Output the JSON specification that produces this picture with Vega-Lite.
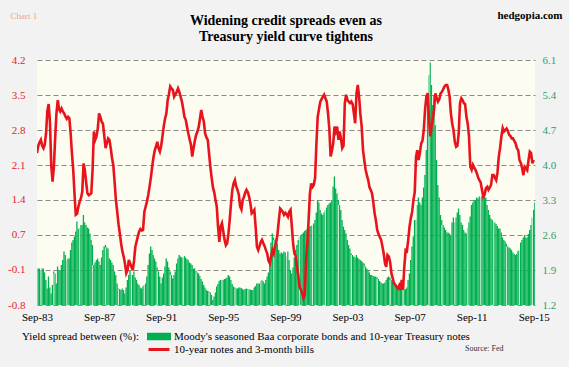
{
"$schema": "https://vega.github.io/schema/vega-lite/v6.json",
"width": 498, "height": 245,
"autosize": {"type": "none"},
"padding": {"left": 37, "top": 60, "right": 34, "bottom": 62},
"background": "#f2f2f2",
"config": {"view": {"fill": "#fcfcf1", "stroke": null}, "font": "Liberation Serif"},
"title": {"text": ["Widening credit spreads even as", "Treasury yield curve tightens"], "font": "Liberation Serif", "fontSize": 14, "fontWeight": "bold", "anchor": "middle", "offset": 0, "dy": 35, "lineHeight": 16, "color": "#000000"},
"data": {"values": [
{"d":"1983-09-01","g":1.93,"r":2.30},{"d":"1983-10-01","g":1.93,"r":2.45},{"d":"1983-11-01","g":1.90,"r":2.52},{"d":"1983-12-01","g":1.93,"r":2.57},
{"d":"1984-01-01","g":1.93,"r":2.45},{"d":"1984-02-01","g":1.85,"r":2.40},{"d":"1984-03-01","g":1.70,"r":2.47},{"d":"1984-04-01","g":1.53,"r":2.70},{"d":"1984-05-01","g":1.77,"r":3.15},{"d":"1984-06-01","g":1.55,"r":3.30},{"d":"1984-07-01","g":1.43,"r":2.95},{"d":"1984-08-01","g":1.60,"r":2.05},{"d":"1984-09-01","g":1.87,"r":1.72},{"d":"1984-10-01","g":1.83,"r":2.00},{"d":"1984-11-01","g":1.63,"r":2.60},{"d":"1984-12-01","g":1.97,"r":3.10},
{"d":"1985-01-01","g":1.90,"r":3.38},{"d":"1985-02-01","g":1.90,"r":3.20},{"d":"1985-03-01","g":2.00,"r":3.15},{"d":"1985-04-01","g":2.10,"r":3.21},{"d":"1985-05-01","g":2.27,"r":3.15},{"d":"1985-06-01","g":2.20,"r":3.11},{"d":"1985-07-01","g":2.10,"r":3.05},{"d":"1985-08-01","g":2.13,"r":3.00},{"d":"1985-09-01","g":2.13,"r":3.04},{"d":"1985-10-01","g":2.30,"r":3.01},{"d":"1985-11-01","g":2.45,"r":2.70},{"d":"1985-12-01","g":2.50,"r":2.30},
{"d":"1986-01-01","g":2.57,"r":1.95},{"d":"1986-02-01","g":2.67,"r":1.45},{"d":"1986-03-01","g":2.87,"r":1.04},{"d":"1986-04-01","g":2.72,"r":1.06},{"d":"1986-05-01","g":2.75,"r":1.20},{"d":"1986-06-01","g":2.80,"r":1.31},{"d":"1986-07-01","g":2.80,"r":1.38},{"d":"1986-08-01","g":3.00,"r":1.51},{"d":"1986-09-01","g":2.85,"r":2.09},{"d":"1986-10-01","g":2.80,"r":1.95},{"d":"1986-11-01","g":2.75,"r":1.70},{"d":"1986-12-01","g":2.73,"r":1.48},
{"d":"1987-01-01","g":2.63,"r":1.44},{"d":"1987-02-01","g":2.50,"r":1.46},{"d":"1987-03-01","g":2.40,"r":1.48},{"d":"1987-04-01","g":2.00,"r":1.96},{"d":"1987-05-01","g":2.05,"r":2.74},{"d":"1987-06-01","g":2.10,"r":2.57},{"d":"1987-07-01","g":2.13,"r":2.64},{"d":"1987-08-01","g":2.07,"r":2.80},{"d":"1987-09-01","g":2.00,"r":3.11},{"d":"1987-10-01","g":2.15,"r":3.04},{"d":"1987-11-01","g":2.30,"r":2.94},{"d":"1987-12-01","g":2.37,"r":2.90},
{"d":"1988-01-01","g":2.40,"r":2.65},{"d":"1988-02-01","g":2.35,"r":2.40},{"d":"1988-03-01","g":2.33,"r":2.50},{"d":"1988-04-01","g":2.13,"r":2.60},{"d":"1988-05-01","g":2.10,"r":2.57},{"d":"1988-06-01","g":2.05,"r":2.40},{"d":"1988-07-01","g":2.00,"r":2.20},{"d":"1988-08-01","g":1.87,"r":2.05},{"d":"1988-09-01","g":1.80,"r":1.70},{"d":"1988-10-01","g":1.63,"r":1.34},{"d":"1988-11-01","g":1.53,"r":1.10},{"d":"1988-12-01","g":1.52,"r":0.85},
{"d":"1989-01-01","g":1.50,"r":0.66},{"d":"1989-02-01","g":1.53,"r":0.45},{"d":"1989-03-01","g":1.50,"r":0.30},{"d":"1989-04-01","g":1.43,"r":0.19},{"d":"1989-05-01","g":1.55,"r":0.05},{"d":"1989-06-01","g":1.70,"r":-0.15},{"d":"1989-07-01","g":1.80,"r":-0.09},{"d":"1989-08-01","g":1.90,"r":0.12},{"d":"1989-09-01","g":1.80,"r":0.05},{"d":"1989-10-01","g":1.80,"r":-0.02},{"d":"1989-11-01","g":1.87,"r":-0.09},{"d":"1989-12-01","g":1.75,"r":0.10},
{"d":"1990-01-01","g":1.70,"r":0.39},{"d":"1990-02-01","g":1.63,"r":0.50},{"d":"1990-03-01","g":1.60,"r":0.60},{"d":"1990-04-01","g":1.55,"r":0.70},{"d":"1990-05-01","g":1.53,"r":0.75},{"d":"1990-06-01","g":1.57,"r":0.72},{"d":"1990-07-01","g":1.60,"r":0.73},{"d":"1990-08-01","g":1.63,"r":1.10},{"d":"1990-09-01","g":1.77,"r":1.21},{"d":"1990-10-01","g":2.00,"r":1.31},{"d":"1990-11-01","g":2.23,"r":1.45},{"d":"1990-12-01","g":2.37,"r":1.61},
{"d":"1991-01-01","g":2.30,"r":1.80},{"d":"1991-02-01","g":2.20,"r":2.02},{"d":"1991-03-01","g":2.13,"r":2.20},{"d":"1991-04-01","g":2.07,"r":2.35},{"d":"1991-05-01","g":1.95,"r":2.43},{"d":"1991-06-01","g":1.87,"r":2.53},{"d":"1991-07-01","g":1.77,"r":2.40},{"d":"1991-08-01","g":1.63,"r":2.33},{"d":"1991-09-01","g":1.75,"r":2.45},{"d":"1991-10-01","g":1.83,"r":2.64},{"d":"1991-11-01","g":1.97,"r":2.85},{"d":"1991-12-01","g":2.13,"r":3.00},
{"d":"1992-01-01","g":2.07,"r":3.11},{"d":"1992-02-01","g":1.95,"r":3.38},{"d":"1992-03-01","g":1.87,"r":3.50},{"d":"1992-04-01","g":1.80,"r":3.66},{"d":"1992-05-01","g":1.73,"r":3.62},{"d":"1992-06-01","g":1.80,"r":3.59},{"d":"1992-07-01","g":1.87,"r":3.45},{"d":"1992-08-01","g":2.03,"r":3.50},{"d":"1992-09-01","g":2.13,"r":3.55},{"d":"1992-10-01","g":2.20,"r":3.62},{"d":"1992-11-01","g":2.17,"r":3.55},{"d":"1992-12-01","g":2.15,"r":3.45},
{"d":"1993-01-01","g":2.15,"r":3.35},{"d":"1993-02-01","g":2.18,"r":3.20},{"d":"1993-03-01","g":2.15,"r":3.04},{"d":"1993-04-01","g":2.12,"r":2.98},{"d":"1993-05-01","g":2.10,"r":2.84},{"d":"1993-06-01","g":2.05,"r":2.70},{"d":"1993-07-01","g":2.03,"r":2.58},{"d":"1993-08-01","g":2.00,"r":2.47},{"d":"1993-09-01","g":1.93,"r":2.23},{"d":"1993-10-01","g":1.93,"r":2.40},{"d":"1993-11-01","g":1.88,"r":2.55},{"d":"1993-12-01","g":1.85,"r":2.67},
{"d":"1994-01-01","g":1.83,"r":2.74},{"d":"1994-02-01","g":1.78,"r":2.84},{"d":"1994-03-01","g":1.72,"r":3.00},{"d":"1994-04-01","g":1.67,"r":3.18},{"d":"1994-05-01","g":1.60,"r":3.04},{"d":"1994-06-01","g":1.55,"r":2.94},{"d":"1994-07-01","g":1.50,"r":2.70},{"d":"1994-08-01","g":1.48,"r":2.62},{"d":"1994-09-01","g":1.47,"r":2.57},{"d":"1994-10-01","g":1.45,"r":2.30},{"d":"1994-11-01","g":1.40,"r":2.02},{"d":"1994-12-01","g":1.30,"r":1.80},
{"d":"1995-01-01","g":1.37,"r":1.60},{"d":"1995-02-01","g":1.45,"r":1.50},{"d":"1995-03-01","g":1.57,"r":1.35},{"d":"1995-04-01","g":1.62,"r":1.21},{"d":"1995-05-01","g":1.68,"r":0.80},{"d":"1995-06-01","g":1.70,"r":0.49},{"d":"1995-07-01","g":1.70,"r":0.80},{"d":"1995-08-01","g":1.70,"r":0.87},{"d":"1995-09-01","g":1.72,"r":0.70},{"d":"1995-10-01","g":1.73,"r":0.53},{"d":"1995-11-01","g":1.75,"r":0.42},{"d":"1995-12-01","g":1.80,"r":0.46},
{"d":"1996-01-01","g":1.77,"r":0.66},{"d":"1996-02-01","g":1.70,"r":0.95},{"d":"1996-03-01","g":1.62,"r":1.27},{"d":"1996-04-01","g":1.57,"r":1.55},{"d":"1996-05-01","g":1.55,"r":1.68},{"d":"1996-06-01","g":1.53,"r":1.75},{"d":"1996-07-01","g":1.53,"r":1.62},{"d":"1996-08-01","g":1.55,"r":1.55},{"d":"1996-09-01","g":1.55,"r":1.45},{"d":"1996-10-01","g":1.54,"r":1.21},{"d":"1996-11-01","g":1.52,"r":1.15},{"d":"1996-12-01","g":1.50,"r":1.34},
{"d":"1997-01-01","g":1.52,"r":1.41},{"d":"1997-02-01","g":1.53,"r":1.50},{"d":"1997-03-01","g":1.52,"r":1.55},{"d":"1997-04-01","g":1.51,"r":1.50},{"d":"1997-05-01","g":1.51,"r":1.41},{"d":"1997-06-01","g":1.50,"r":1.27},{"d":"1997-07-01","g":1.50,"r":1.07},{"d":"1997-08-01","g":1.55,"r":1.10},{"d":"1997-09-01","g":1.58,"r":1.14},{"d":"1997-10-01","g":1.63,"r":0.80},{"d":"1997-11-01","g":1.63,"r":0.39},{"d":"1997-12-01","g":1.63,"r":0.32},
{"d":"1998-01-01","g":1.68,"r":0.40},{"d":"1998-02-01","g":1.70,"r":0.49},{"d":"1998-03-01","g":1.67,"r":0.53},{"d":"1998-04-01","g":1.63,"r":0.46},{"d":"1998-05-01","g":1.70,"r":0.40},{"d":"1998-06-01","g":1.77,"r":0.32},{"d":"1998-07-01","g":1.85,"r":0.25},{"d":"1998-08-01","g":2.07,"r":0.10},{"d":"1998-09-01","g":2.45,"r":0.05},{"d":"1998-10-01","g":2.63,"r":0.19},{"d":"1998-11-01","g":2.55,"r":0.32},{"d":"1998-12-01","g":2.50,"r":0.25},
{"d":"1999-01-01","g":2.53,"r":0.40},{"d":"1999-02-01","g":2.43,"r":0.49},{"d":"1999-03-01","g":2.30,"r":0.66},{"d":"1999-04-01","g":2.23,"r":0.93},{"d":"1999-05-01","g":2.25,"r":1.17},{"d":"1999-06-01","g":2.23,"r":1.14},{"d":"1999-07-01","g":2.27,"r":1.10},{"d":"1999-08-01","g":2.25,"r":1.04},{"d":"1999-09-01","g":2.17,"r":1.08},{"d":"1999-10-01","g":2.27,"r":1.05},{"d":"1999-11-01","g":2.10,"r":1.00},{"d":"1999-12-01","g":1.90,"r":1.10},
{"d":"2000-01-01","g":1.83,"r":1.14},{"d":"2000-02-01","g":1.95,"r":0.80},{"d":"2000-03-01","g":2.15,"r":0.46},{"d":"2000-04-01","g":2.30,"r":0.25},{"d":"2000-05-01","g":2.40,"r":0.20},{"d":"2000-06-01","g":2.50,"r":-0.02},{"d":"2000-07-01","g":2.57,"r":-0.20},{"d":"2000-08-01","g":2.60,"r":-0.43},{"d":"2000-09-01","g":2.62,"r":-0.49},{"d":"2000-10-01","g":2.65,"r":-0.56},{"d":"2000-11-01","g":2.68,"r":-0.66},{"d":"2000-12-01","g":2.70,"r":-0.60},
{"d":"2001-01-01","g":2.72,"r":0.12},{"d":"2001-02-01","g":2.75,"r":0.50},{"d":"2001-03-01","g":2.77,"r":0.93},{"d":"2001-04-01","g":2.78,"r":1.48},{"d":"2001-05-01","g":2.80,"r":1.68},{"d":"2001-06-01","g":2.83,"r":1.61},{"d":"2001-07-01","g":2.90,"r":1.65},{"d":"2001-08-01","g":3.05,"r":1.80},{"d":"2001-09-01","g":3.30,"r":2.50},{"d":"2001-10-01","g":3.25,"r":3.04},{"d":"2001-11-01","g":3.10,"r":3.20},{"d":"2001-12-01","g":3.03,"r":3.35},
{"d":"2002-01-01","g":3.00,"r":3.40},{"d":"2002-02-01","g":3.05,"r":3.45},{"d":"2002-03-01","g":3.10,"r":3.49},{"d":"2002-04-01","g":3.15,"r":3.42},{"d":"2002-05-01","g":3.20,"r":3.35},{"d":"2002-06-01","g":3.23,"r":3.11},{"d":"2002-07-01","g":3.25,"r":2.80},{"d":"2002-08-01","g":3.30,"r":2.23},{"d":"2002-09-01","g":3.57,"r":2.35},{"d":"2002-10-01","g":3.77,"r":2.50},{"d":"2002-11-01","g":3.53,"r":2.84},{"d":"2002-12-01","g":3.43,"r":2.74},
{"d":"2003-01-01","g":3.30,"r":2.84},{"d":"2003-02-01","g":3.20,"r":2.57},{"d":"2003-03-01","g":3.10,"r":2.74},{"d":"2003-04-01","g":2.90,"r":2.60},{"d":"2003-05-01","g":2.77,"r":2.40},{"d":"2003-06-01","g":2.70,"r":2.45},{"d":"2003-07-01","g":2.63,"r":3.32},{"d":"2003-08-01","g":2.50,"r":3.49},{"d":"2003-09-01","g":2.40,"r":3.38},{"d":"2003-10-01","g":2.33,"r":3.35},{"d":"2003-11-01","g":2.23,"r":3.32},{"d":"2003-12-01","g":2.20,"r":3.35},
{"d":"2004-01-01","g":2.17,"r":3.30},{"d":"2004-02-01","g":2.15,"r":3.10},{"d":"2004-03-01","g":2.20,"r":2.91},{"d":"2004-04-01","g":2.15,"r":3.52},{"d":"2004-05-01","g":2.12,"r":3.69},{"d":"2004-06-01","g":2.10,"r":3.45},{"d":"2004-07-01","g":2.08,"r":3.10},{"d":"2004-08-01","g":2.05,"r":2.84},{"d":"2004-09-01","g":2.03,"r":2.36},{"d":"2004-10-01","g":1.97,"r":2.16},{"d":"2004-11-01","g":1.93,"r":1.96},{"d":"2004-12-01","g":1.90,"r":1.85},
{"d":"2005-01-01","g":1.85,"r":1.75},{"d":"2005-02-01","g":1.80,"r":1.60},{"d":"2005-03-01","g":1.80,"r":1.55},{"d":"2005-04-01","g":1.78,"r":1.48},{"d":"2005-05-01","g":1.77,"r":1.30},{"d":"2005-06-01","g":1.77,"r":1.07},{"d":"2005-07-01","g":1.75,"r":0.93},{"d":"2005-08-01","g":1.72,"r":0.73},{"d":"2005-09-01","g":1.68,"r":0.65},{"d":"2005-10-01","g":1.65,"r":0.59},{"d":"2005-11-01","g":1.63,"r":0.53},{"d":"2005-12-01","g":1.63,"r":0.40},
{"d":"2006-01-01","g":1.65,"r":0.25},{"d":"2006-02-01","g":1.70,"r":0.05},{"d":"2006-03-01","g":1.75,"r":-0.02},{"d":"2006-04-01","g":1.77,"r":0.22},{"d":"2006-05-01","g":1.75,"r":0.19},{"d":"2006-06-01","g":1.70,"r":0.08},{"d":"2006-07-01","g":1.67,"r":-0.15},{"d":"2006-08-01","g":1.63,"r":-0.25},{"d":"2006-09-01","g":1.60,"r":-0.36},{"d":"2006-10-01","g":1.57,"r":-0.39},{"d":"2006-11-01","g":1.55,"r":-0.43},{"d":"2006-12-01","g":1.53,"r":-0.46},
{"d":"2007-01-01","g":1.52,"r":-0.40},{"d":"2007-02-01","g":1.52,"r":-0.49},{"d":"2007-03-01","g":1.50,"r":-0.29},{"d":"2007-04-01","g":1.50,"r":-0.49},{"d":"2007-05-01","g":1.52,"r":-0.02},{"d":"2007-06-01","g":1.55,"r":0.32},{"d":"2007-07-01","g":1.70,"r":0.30},{"d":"2007-08-01","g":1.83,"r":0.53},{"d":"2007-09-01","g":2.10,"r":0.80},{"d":"2007-10-01","g":2.37,"r":0.97},{"d":"2007-11-01","g":2.57,"r":1.10},{"d":"2007-12-01","g":2.90,"r":1.34},
{"d":"2008-01-01","g":2.90,"r":1.50},{"d":"2008-02-01","g":3.20,"r":2.23},{"d":"2008-03-01","g":3.35,"r":2.36},{"d":"2008-04-01","g":3.25,"r":2.16},{"d":"2008-05-01","g":3.20,"r":2.30},{"d":"2008-06-01","g":3.35,"r":2.50},{"d":"2008-07-01","g":3.55,"r":2.55},{"d":"2008-08-01","g":3.80,"r":2.77},{"d":"2008-09-01","g":4.30,"r":3.20},{"d":"2008-10-01","g":5.30,"r":3.45},{"d":"2008-11-01","g":5.80,"r":3.52},{"d":"2008-12-01","g":6.05,"r":3.00},
{"d":"2009-01-01","g":5.60,"r":2.64},{"d":"2009-02-01","g":5.20,"r":2.84},{"d":"2009-03-01","g":5.40,"r":2.98},{"d":"2009-04-01","g":4.80,"r":3.20},{"d":"2009-05-01","g":4.10,"r":3.52},{"d":"2009-06-01","g":3.60,"r":3.42},{"d":"2009-07-01","g":3.35,"r":3.35},{"d":"2009-08-01","g":3.00,"r":3.40},{"d":"2009-09-01","g":2.90,"r":3.52},{"d":"2009-10-01","g":2.80,"r":3.55},{"d":"2009-11-01","g":2.75,"r":3.60},{"d":"2009-12-01","g":2.70,"r":3.66},
{"d":"2010-01-01","g":2.65,"r":3.69},{"d":"2010-02-01","g":2.65,"r":3.69},{"d":"2010-03-01","g":2.63,"r":3.60},{"d":"2010-04-01","g":2.60,"r":3.45},{"d":"2010-05-01","g":2.85,"r":3.11},{"d":"2010-06-01","g":2.95,"r":2.90},{"d":"2010-07-01","g":2.85,"r":2.77},{"d":"2010-08-01","g":2.95,"r":2.53},{"d":"2010-09-01","g":3.05,"r":2.43},{"d":"2010-10-01","g":3.13,"r":2.45},{"d":"2010-11-01","g":3.00,"r":2.70},{"d":"2010-12-01","g":2.85,"r":3.32},
{"d":"2011-01-01","g":2.80,"r":3.42},{"d":"2011-02-01","g":2.70,"r":3.38},{"d":"2011-03-01","g":2.65,"r":3.32},{"d":"2011-04-01","g":2.63,"r":3.30},{"d":"2011-05-01","g":2.75,"r":3.04},{"d":"2011-06-01","g":2.85,"r":2.90},{"d":"2011-07-01","g":2.97,"r":2.64},{"d":"2011-08-01","g":3.20,"r":2.02},{"d":"2011-09-01","g":3.25,"r":1.96},{"d":"2011-10-01","g":3.30,"r":2.06},{"d":"2011-11-01","g":3.30,"r":2.00},{"d":"2011-12-01","g":3.35,"r":1.96},
{"d":"2012-01-01","g":3.33,"r":1.89},{"d":"2012-02-01","g":3.37,"r":1.80},{"d":"2012-03-01","g":3.35,"r":1.75},{"d":"2012-04-01","g":3.38,"r":1.70},{"d":"2012-05-01","g":3.40,"r":1.55},{"d":"2012-06-01","g":3.40,"r":1.41},{"d":"2012-07-01","g":3.35,"r":1.45},{"d":"2012-08-01","g":3.20,"r":1.58},{"d":"2012-09-01","g":3.10,"r":1.61},{"d":"2012-10-01","g":3.00,"r":1.55},{"d":"2012-11-01","g":2.93,"r":1.60},{"d":"2012-12-01","g":2.90,"r":1.65},
{"d":"2013-01-01","g":2.85,"r":1.85},{"d":"2013-02-01","g":2.85,"r":1.85},{"d":"2013-03-01","g":2.82,"r":1.80},{"d":"2013-04-01","g":2.78,"r":1.75},{"d":"2013-05-01","g":2.73,"r":1.90},{"d":"2013-06-01","g":2.73,"r":2.23},{"d":"2013-07-01","g":2.65,"r":2.40},{"d":"2013-08-01","g":2.55,"r":2.64},{"d":"2013-09-01","g":2.50,"r":2.81},{"d":"2013-10-01","g":2.47,"r":2.74},{"d":"2013-11-01","g":2.42,"r":2.77},{"d":"2013-12-01","g":2.37,"r":2.80},
{"d":"2014-01-01","g":2.35,"r":2.75},{"d":"2014-02-01","g":2.33,"r":2.67},{"d":"2014-03-01","g":2.30,"r":2.65},{"d":"2014-04-01","g":2.25,"r":2.60},{"d":"2014-05-01","g":2.22,"r":2.60},{"d":"2014-06-01","g":2.20,"r":2.55},{"d":"2014-07-01","g":2.22,"r":2.50},{"d":"2014-08-01","g":2.28,"r":2.40},{"d":"2014-09-01","g":2.30,"r":2.36},{"d":"2014-10-01","g":2.45,"r":2.16},{"d":"2014-11-01","g":2.50,"r":2.10},{"d":"2014-12-01","g":2.55,"r":2.00},
{"d":"2015-01-01","g":2.60,"r":1.85},{"d":"2015-02-01","g":2.55,"r":2.02},{"d":"2015-03-01","g":2.55,"r":1.99},{"d":"2015-04-01","g":2.62,"r":1.95},{"d":"2015-05-01","g":2.70,"r":2.15},{"d":"2015-06-01","g":2.80,"r":2.33},{"d":"2015-07-01","g":2.95,"r":2.30},{"d":"2015-08-01","g":3.10,"r":2.09},{"d":"2015-09-01","g":3.25,"r":2.16}
]},
"encoding": {
  "x": {"field": "d", "type": "temporal", "timeUnit": "utcyearmonth",
    "scale": {"type": "utc", "domain": [{"year": 1983, "month": "sep", "date": 1, "utc": true}, {"year": 2015, "month": "oct", "date": 1, "utc": true}]},
    "axis": {"values": [{"year": 1983, "month": "sep", "date": 1, "utc": true}, {"year": 1987, "month": "sep", "date": 1, "utc": true}, {"year": 1991, "month": "sep", "date": 1, "utc": true}, {"year": 1995, "month": "sep", "date": 1, "utc": true}, {"year": 1999, "month": "sep", "date": 1, "utc": true}, {"year": 2003, "month": "sep", "date": 1, "utc": true}, {"year": 2007, "month": "sep", "date": 1, "utc": true}, {"year": 2011, "month": "sep", "date": 1, "utc": true}, {"year": 2015, "month": "sep", "date": 1, "utc": true}],
      "labelExpr": "utcFormat(datum.value, '%b-%y')", "labelFont": "Liberation Serif", "labelFontSize": 11, "labelColor": "#000000", "labelPadding": 6, "labelFlush": false, "labelOverlap": false,
      "ticks": false, "domain": false, "grid": false,
      "title": "Source: Fed", "titleFont": "Liberation Serif", "titleFontSize": 8, "titleFontWeight": "normal", "titleColor": "#333333", "titleX": 466, "titleY": 45, "titleAlign": "right", "titleBaseline": "alphabetic", "titleAnchor": null}
  }
},
"layer": [
  {"encoding": {
     "y": {"field": "g", "type": "quantitative", "scale": {"domain": [1.2, 6.1], "zero": false, "nice": false},
       "axis": {"orient": "right", "values": [1.2, 1.9, 2.6, 3.3, 4.0, 4.7, 5.4, 6.1], "format": ".1f", "labelColor": "#2e9e6b", "labelFont": "Liberation Serif", "labelFontSize": 11, "labelPadding": 7, "ticks": false, "domain": false, "grid": false,
         "title": "hedgopia.com", "titleAngle": 0, "titleX": 27, "titleY": -42, "titleAlign": "right", "titleBaseline": "alphabetic", "titleFont": "Liberation Serif", "titleFontSize": 11, "titleFontWeight": "bold", "titleColor": "#000000"}}
   },
   "layer": [
    {"mark": {"type": "bar", "binSpacing": 0, "clip": true},
     "encoding": {
     "color": {"datum": "Moody's seasoned Baa corporate bonds and 10-year Treasury notes",
       "scale": {"domain": ["Moody's seasoned Baa corporate bonds and 10-year Treasury notes", "10-year notes and 3-month bills"], "range": ["#00b050", "#e8141c"]},
       "legend": {"orient": "none", "legendX": -15, "legendY": 271, "padding": 0, "direction": "vertical",
         "title": "Yield spread between (%):", "titleOrient": "left", "titleAnchor": "start", "titlePadding": 8, "titleFont": "Liberation Serif", "titleFontSize": 11, "titleFontWeight": "normal", "titleColor": "#000000",
         "labelFont": "Liberation Serif", "labelFontSize": 11, "labelColor": "#000000", "labelLimit": 500, "labelOffset": 3,
         "symbolType": "M-1,-0.22L1,-0.22L1,0.22L-1,0.22Z", "symbolSize": 441, "clipHeight": 11, "rowPadding": 1,
         "encode": {
           "title": {"update": {"angle": {"value": 0}, "align": {"value": "left"}, "baseline": {"value": "top"}}},
           "symbols": {"update": {
             "shape": {"signal": "indexof(datum.value, 'Moody') >= 0 ? 'M-1,-0.22L1,-0.22L1,0.22L-1,0.22Z' : 'M-1,0L1,0'"},
             "fill": {"signal": "indexof(datum.value, 'Moody') >= 0 ? '#00b050' : 'transparent'"},
             "stroke": {"signal": "indexof(datum.value, 'Moody') >= 0 ? 'transparent' : '#e8141c'"},
             "strokeWidth": {"value": 3}, "size": {"value": 441}, "opacity": {"value": 1}}}
         }}}
     }},
    {"transform": [{"window": [{"op": "row_number", "as": "n"}]}, {"filter": "datum.n % 10 == 4"}],
     "mark": {"type": "rule", "color": "#ffffff", "strokeWidth": 1, "opacity": 0.8, "clip": true},
     "encoding": {"y2": {"datum": 1.2}}}
   ]},
  {"mark": {"type": "line", "strokeWidth": 2.6, "clip": true},
   "encoding": {
     "y": {"field": "r", "type": "quantitative", "scale": {"domain": [-0.8, 4.2], "zero": false, "nice": false},
       "axis": {"orient": "left", "values": [-0.8, -0.0857, 0.6286, 1.3429, 2.0571, 2.7714, 3.4857, 4.2],
         "labelExpr": "datum.value < -0.5 ? '-0.8' : datum.value < 0.3 ? '-0.1' : datum.value < 1 ? '0.7' : datum.value < 1.7 ? '1.4' : datum.value < 2.4 ? '2.1' : datum.value < 3.1 ? '2.8' : datum.value < 3.8 ? '3.5' : '4.2'",
         "labelColor": "#e3242b", "labelFont": "Liberation Serif", "labelFontSize": 11, "labelPadding": 12, "ticks": false, "domain": false,
         "grid": true, "gridColor": "#8a8a8a", "gridDash": [5, 3], "gridWidth": 1.2,
         "title": "Chart 1", "titleAngle": 0, "titleX": -27, "titleY": -42, "titleAlign": "left", "titleBaseline": "alphabetic", "titleFont": "Liberation Serif", "titleFontSize": 9, "titleFontWeight": "normal", "titleColor": "#f0a57a"}},
     "color": {"datum": "10-year notes and 3-month bills"}
   }}
],
"resolve": {"scale": {"y": "independent"}}
}
